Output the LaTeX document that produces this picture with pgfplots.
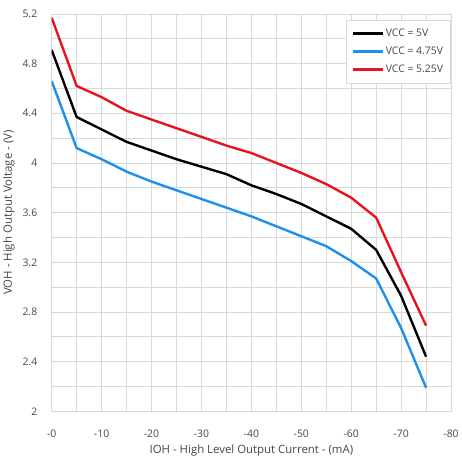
\documentclass[border=0pt]{standalone}
\usepackage{pgfplots}
\pgfplotsset{compat=1.18}
\usepackage{fontspec}
\setmainfont{Open Sans}
\definecolor{tiblue}{RGB}{30,144,235}
\definecolor{tired}{RGB}{230,20,30}
\definecolor{txt}{RGB}{70,70,70}
\begin{document}
\begin{tikzpicture}[x=1bp,y=1bp]
\begin{axis}[
  scale only axis,
  width=401bp, height=399bp,
  x dir=reverse,
  xmin=-80, xmax=0, ymin=2, ymax=5.2,
  xtick={0,-10,-20,-30,-40,-50,-60,-70,-80},
  xticklabels={-0,-10,-20,-30,-40,-50,-60,-70,-80},
  ytick={2,2.4,2.8,3.2,3.6,4,4.4,4.8,5.2},
  yticklabels={2,2.4,2.8,3.2,3.6,4,4.4,4.8,5.2},
  minor x tick num=1, minor y tick num=1,
  grid=both,
  major grid style={draw=gray!30, line width=0.7bp},
  minor grid style={draw=gray!30, line width=0.7bp},
  axis line style={draw=gray!30},
  major tick length=0pt, minor tick length=0pt,
  tick label style={font=\fontsize{10.5}{12}\selectfont, text=txt},
  xticklabel style={yshift=-15bp},
  yticklabel style={xshift=-11bp},
  label style={font=\fontsize{11.5}{13}\selectfont, text=txt},
  xlabel={IOH - High Level Output Current - (mA)},
  ylabel={VOH - High Output Voltage - (V)},
  xlabel style={yshift=-1bp},
  ylabel style={yshift=1bp},
  legend style={at={(0.998,0.985)}, anchor=north east, font=\fontsize{10.5}{12}\selectfont, draw=gray!30, text=txt, row sep=5bp, inner xsep=5bp, inner ysep=7bp},
  legend image code/.code={\draw[#1, line width=2.4bp] (0bp,0bp) -- (30bp,0bp);},
  legend cell align=left,
  every axis plot/.append style={line width=2.4bp, line join=round},
]
\addplot[black] coordinates {(0,4.91) (-5,4.37) (-10,4.27) (-15,4.17) (-20,4.10) (-25,4.03) (-30,3.97) (-35,3.91) (-40,3.82) (-45,3.75) (-50,3.67) (-55,3.57) (-60,3.47) (-65,3.30) (-70,2.93) (-75,2.44)};
\addlegendentry{VCC = 5V}
\addplot[tiblue] coordinates {(0,4.66) (-5,4.12) (-10,4.03) (-15,3.93) (-20,3.85) (-25,3.78) (-30,3.71) (-35,3.64) (-40,3.57) (-45,3.49) (-50,3.41) (-55,3.33) (-60,3.21) (-65,3.07) (-70,2.67) (-75,2.19)};
\addlegendentry{VCC = 4.75V}
\addplot[tired] coordinates {(0,5.17) (-5,4.62) (-10,4.53) (-15,4.42) (-20,4.35) (-25,4.28) (-30,4.21) (-35,4.14) (-40,4.08) (-45,4.00) (-50,3.92) (-55,3.83) (-60,3.72) (-65,3.56) (-70,3.12) (-75,2.69)};
\addlegendentry{VCC = 5.25V}
\end{axis}
\path ([yshift=14bp]current axis.north west);
\end{tikzpicture}
\end{document}
